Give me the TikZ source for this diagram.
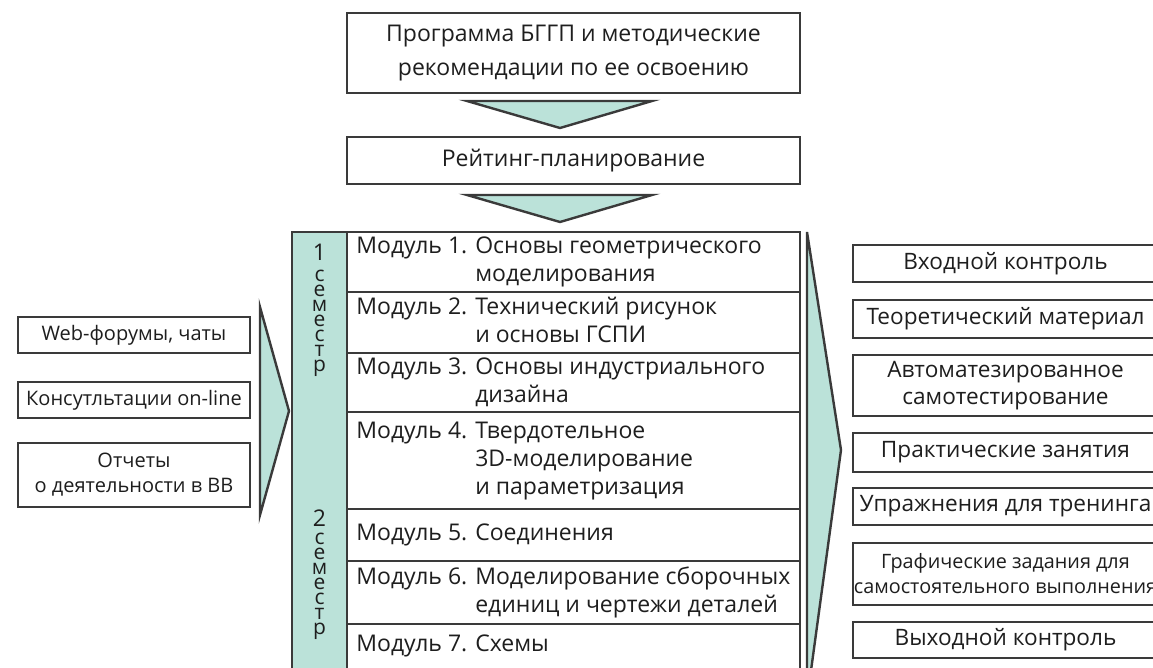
\documentclass[tikz,border=0pt]{standalone}
\usepackage{fontspec}
\setmainfont{Open Sans}
\definecolor{tealf}{HTML}{BBE2D9}
\definecolor{ln}{HTML}{3A3A3A}
\definecolor{txt}{HTML}{1E1E1E}
\begin{document}
\begin{tikzpicture}[x=0.5pt,y=-0.5pt,
  box/.style={draw=ln, line width=1.2pt, fill=white, inner sep=0pt, align=center, text=txt,
    font=\fontsize{11.5}{14}\selectfont},
  lbox/.style={box, minimum width=116pt, font=\fontsize{10}{12.5}\selectfont},
  rbox/.style={box, minimum width=152.5pt, font=\fontsize{11.3}{13.5}\selectfont},
  modrow/.style={draw=ln, line width=1.2pt, fill=white, inner sep=0pt, minimum width=226.5pt},
  modtxt/.style={anchor=west, inner sep=0pt, text=txt, font=\fontsize{11.5}{14}\selectfont},
  semdig/.style={inner sep=0pt, text=txt, font=\fontsize{11.5}{14}\selectfont},
  semtxt/.style={inner sep=0pt, text=txt, align=center,
    font={\fontsize{10.5}{7.5}\selectfont\lineskiplimit=-10pt}},
  tshape/.style={draw=ln, line width=1.2pt, fill=tealf, line join=miter}]
\useasboundingbox (0,0) rectangle (1153,668);
\clip (0,0) rectangle (1153,668);

% top boxes
\node[box, minimum width=226.5pt, minimum height=40pt, font=\fontsize{11.5}{17}\selectfont] (prog) at (573.5,53)
  {Программа БГГП и методические\\рекомендации по ее освоению};
\node[box, minimum width=226.5pt, minimum height=23.5pt] (rating) at (573.5,160.5) {Рейтинг-планирование};
\draw[tshape] (467,101) -- (652,101) -- (560,128) -- cycle;
\draw[tshape] (467,195) -- (652,195) -- (560,222) -- cycle;

% semester column
\node[draw=ln, line width=1.2pt, fill=tealf, minimum width=27.5pt, minimum height=234pt, inner sep=0pt] (semcol) at (319.5,466) {};
\node[semdig] (d1) at (319.5,252) {1};
\node[semtxt] (s1) at (319.5,323) {с\\е\\м\\е\\с\\т\\р};
\node[semdig] (d2) at (319.5,518) {2};
\node[semtxt] (s2) at (319.5,586) {с\\е\\м\\е\\с\\т\\р};

% module rows
\node[modrow, minimum height=30pt]   (m1) at (573.5,262) {};
\node[modrow, minimum height=30.5pt] (m2) at (573.5,322.5) {};
\node[modrow, minimum height=29.5pt] (m3) at (573.5,382.5) {};
\node[modrow, minimum height=48.5pt] (m4) at (573.5,460.5) {};
\node[modrow, minimum height=26pt]   (m5) at (573.5,535) {};
\node[modrow, minimum height=31.5pt] (m6) at (573.5,592.5) {};
\node[modrow, minimum height=38pt]   (m7) at (573.5,662) {};

\node[modtxt] (t1) at (356,262) {\begin{tabular}{@{}l@{ }l@{}}Модуль 1. & Основы геометрического\\ & моделирования\end{tabular}};
\node[modtxt] (t2) at (356,322.5) {\begin{tabular}{@{}l@{ }l@{}}Модуль 2. & Технический рисунок\\ & и основы ГСПИ\end{tabular}};
\node[modtxt] (t3) at (356,382.5) {\begin{tabular}{@{}l@{ }l@{}}Модуль 3. & Основы индустриального\\ & дизайна\end{tabular}};
\node[modtxt] (t4) at (356,460.5) {\begin{tabular}{@{}l@{ }l@{}}Модуль 4. & Твердотельное\\ & 3D-моделирование\\ & и параметризация\end{tabular}};
\node[modtxt] (t5) at (356,535) {Модуль 5. Соединения};
\node[modtxt] (t6) at (356,592.5) {\begin{tabular}{@{}l@{ }l@{}}Модуль 6. & Моделирование сборочных\\ & единиц и чертежи деталей\end{tabular}};
\node[modtxt] (t7) at (356,646) {Модуль 7. Схемы};

% left boxes and arrow
\node[lbox, minimum height=18pt] (l1) at (134,335) {Web-форумы, чаты};
\node[lbox, minimum height=18pt] (l2) at (134,400) {Консутльтации on-line};
\node[lbox, minimum height=32pt] (l3) at (134,475) {Отчеты\\о деятельности в ВВ};
\draw[tshape] (260,307) -- (289,411) -- (260,515) -- cycle;

% right arrow and boxes
\draw[tshape] (807,232) -- (841,450) -- (807,700) -- cycle;
\node[rbox, minimum height=18.5pt] (r1) at (1005.5,263.5) {Входной контроль};
\node[rbox, minimum height=19pt]   (r2) at (1005.5,319) {Теоретический материал};
\node[rbox, minimum height=30.5pt] (r3) at (1005.5,385.5) {Автоматезированное\\самотестирование};
\node[rbox, minimum height=19.5pt] (r4) at (1005.5,452.5) {Практические занятия};
\node[rbox, minimum height=18.5pt] (r5) at (1005.5,506.5) {Упражнения для тренинга};
\node[rbox, minimum height=31pt, font=\fontsize{9.9}{12.5}\selectfont] (r6) at (1005.5,574) {Графические задания для\\самостоятельного выполнения};
\node[rbox, minimum height=18pt]   (r7) at (1005.5,640) {Выходной контроль};
\end{tikzpicture}
\end{document}
